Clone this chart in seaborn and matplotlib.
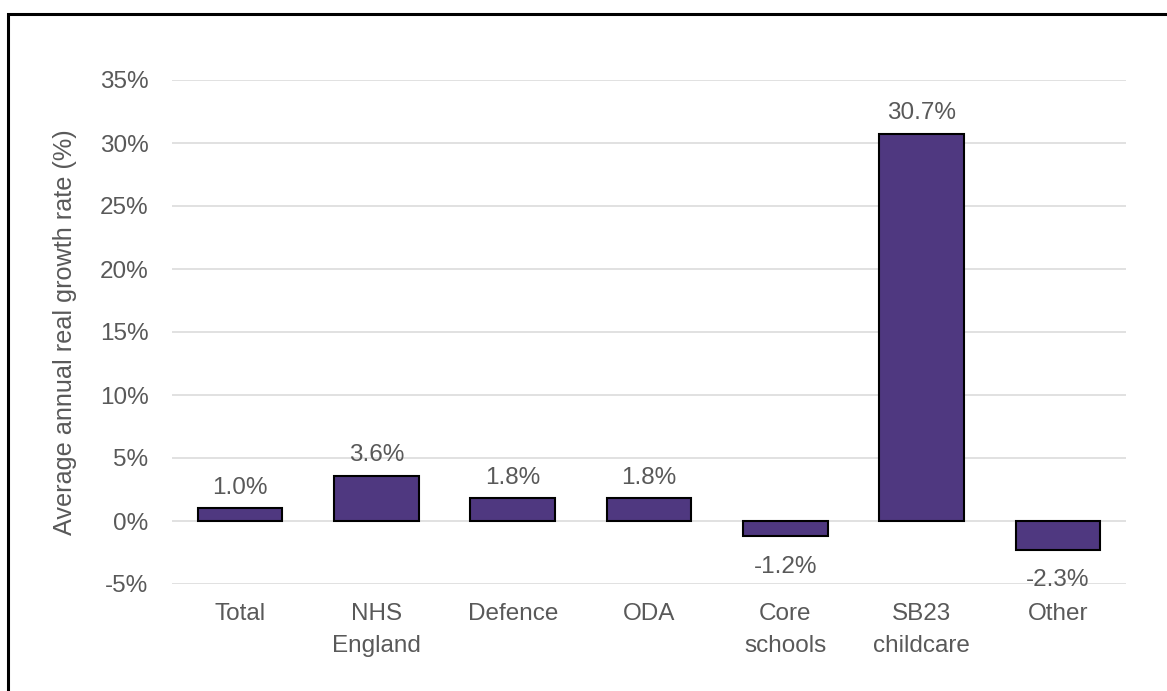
import matplotlib
matplotlib.use("Agg")
import matplotlib.pyplot as plt
import seaborn as sns
import pandas as pd
from matplotlib.patches import Rectangle
from matplotlib.ticker import FuncFormatter

categories = ["Total", "NHS\nEngland", "Defence", "ODA", "Core\nschools", "SB23\nchildcare", "Other"]
growth = [1.0, 3.6, 1.8, 1.8, -1.2, 30.7, -2.3]
yticks = [-5, 0, 5, 10, 15, 20, 25, 30, 35]

sns.set_theme(style="white")
plt.rcParams["font.family"] = ["Liberation Sans", "DejaVu Sans"]

TEXT = "#595959"
BAR = "#4F3880"

fig = plt.figure(figsize=(11.67, 6.91), dpi=100)
ax = fig.add_axes([172/1167, 1 - 584/691, (1126-172)/1167, (584-80)/691])

df = pd.DataFrame({"category": categories, "growth": growth})
sns.barplot(data=df, x="category", y="growth", color=BAR, saturation=1,
            edgecolor="black", linewidth=1.5, width=0.62, ax=ax, zorder=3)

ax.set_ylim(-5, 35)
ax.set_xlim(-0.5, len(categories) - 0.5)
ax.set_yticks(yticks)
ax.yaxis.set_major_formatter(FuncFormatter(lambda v, p: f"{v:.0f}%"))
ax.grid(axis="y", color="#D9D9D9", linewidth=1.1, zorder=0)
ax.set_axisbelow(True)
for s in ax.spines.values():
    s.set_visible(False)
ax.tick_params(axis="both", length=0, labelsize=17.5, colors=TEXT)
ax.tick_params(axis="x", pad=14)
ax.tick_params(axis="y", pad=17)
for lbl in ax.get_xticklabels():
    lbl.set_linespacing(1.55)
ax.set_xlabel("")
ax.set_ylabel("Average annual real growth rate (%)", fontsize=18.2, color=TEXT)
ax.yaxis.set_label_coords(-0.10, 0.5)

bars = ax.containers[0]
pos_labels = [f"{v:.1f}%" if v >= 0 else "" for v in growth]
neg_labels = [f"{v:.1f}%" if v < 0 else "" for v in growth]
ax.bar_label(bars, labels=pos_labels, padding=7, fontsize=17.5, color=TEXT)
ax.bar_label(bars, labels=neg_labels, padding=14, fontsize=17.5, color=TEXT)

fig.patches.append(Rectangle((8/1167, -0.05), 1.2, 1 - 13.5/691 + 0.05,
                             transform=fig.transFigure, fill=False,
                             edgecolor="black", linewidth=2.2))

fig.savefig("out.png", dpi=100, facecolor="white")
